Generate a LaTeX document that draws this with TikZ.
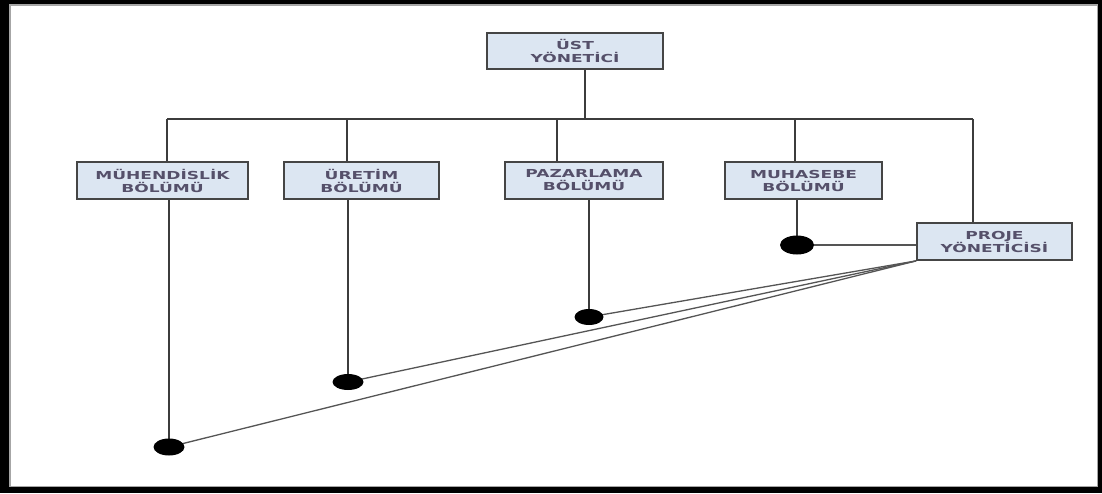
\documentclass[tikz,border=0pt]{standalone}
\usepackage{fontspec}
\usepackage{graphicx}
\usetikzlibrary{backgrounds,shapes.geometric}
\newfontfamily\boxfont{DejaVu Sans}
\newcommand{\wx}[1]{\scalebox{1.55}[1]{#1}}
\definecolor{boxfill}{HTML}{DCE6F2}
\definecolor{boxline}{HTML}{454545}
\definecolor{txt}{HTML}{55506A}
\definecolor{lin}{HTML}{3C3C3C}
\definecolor{fanc}{HTML}{555555}
\begin{document}
\begin{tikzpicture}[x=1pt,y=-1pt,
  box/.style={draw=boxline, line width=1.8pt, fill=boxfill, minimum height=37, inner sep=0pt, align=center,
              font=\boxfont\bfseries\fontsize{11}{13}\selectfont, text=txt},
  conn/.style={draw=lin, line width=2pt},
  bar/.style={draw=lin, line width=1.6pt},
  fan/.style={draw=fanc, line width=1.3pt},
  dot/.style={ellipse, fill=black, inner sep=0pt, minimum width=31, minimum height=17}]
\useasboundingbox (0,0) rectangle (1102,493);

\node[box, minimum width=176, minimum height=36] (top) at (575,51) {\wx{ÜST}\\\wx{YÖNETİCİ}};
\node[box, minimum width=171] (muh) at (162.5,180.5) {\wx{MÜHENDİSLİK}\\\wx{BÖLÜMÜ}};
\node[box, minimum width=155] (ure) at (361.5,180.5) {\wx{ÜRETİM}\\\wx{BÖLÜMÜ}};
\node[box, minimum width=158] (paz) at (584,180.5) {\wx{PAZARLAMA}\\\wx{BÖLÜMÜ}};
\node[box, minimum width=157] (mhs) at (803.5,180.5) {\wx{MUHASEBE}\\\wx{BÖLÜMÜ}};
\node[box, minimum width=155] (proje) at (994.5,241.5) {\wx{PROJE}\\\wx{YÖNETİCİSİ}};

\node[dot] (d1) at (169,447) {};
\node[dot, minimum height=16] (d2) at (348,382) {};
\node[dot, minimum width=29, minimum height=16] (d3) at (589,317) {};
\node[dot, minimum width=34, minimum height=19] (d4) at (797,245) {};

\coordinate (trunk) at (585,119);
\coordinate (b1) at (167,119);
\coordinate (b2) at (347,119);
\coordinate (b3) at (557,119);
\coordinate (b4) at (795,119);
\coordinate (b5) at (973,119);

\begin{scope}[on background layer]
  \fill[black] (0,0) rectangle (1102,493);
  \fill[white] (9,4) rectangle (1098,487);
  \draw[gray!70, line width=1.5pt] (10,4.75) rectangle (1097.25,486.25);
  \draw[conn] (top.south -| trunk) -- (trunk);
  \draw[bar] (b1) -- (b5);
  \draw[conn] (b1) -- (b1 |- muh.north);
  \draw[conn] (b2) -- (b2 |- ure.north);
  \draw[conn] (b3) -- (b3 |- paz.north);
  \draw[conn] (b4) -- (b4 |- mhs.north);
  \draw[conn] (b5) -- (b5 |- proje.north);
  \draw[conn] (d1 |- muh.south) -- (d1.center);
  \draw[conn] (d2 |- ure.south) -- (d2.center);
  \draw[conn] (d3 |- paz.south) -- (d3.center);
  \draw[conn] (d4 |- mhs.south) -- (d4.center);
  \draw[fan] (d4.center) -- (d4 -| proje.west);
  \draw[fan] (proje.south west) -- (d3.center);
  \draw[fan] (proje.south west) -- (d2.center);
  \draw[fan] (proje.south west) -- (d1.center);
\end{scope}
\end{tikzpicture}
\end{document}
